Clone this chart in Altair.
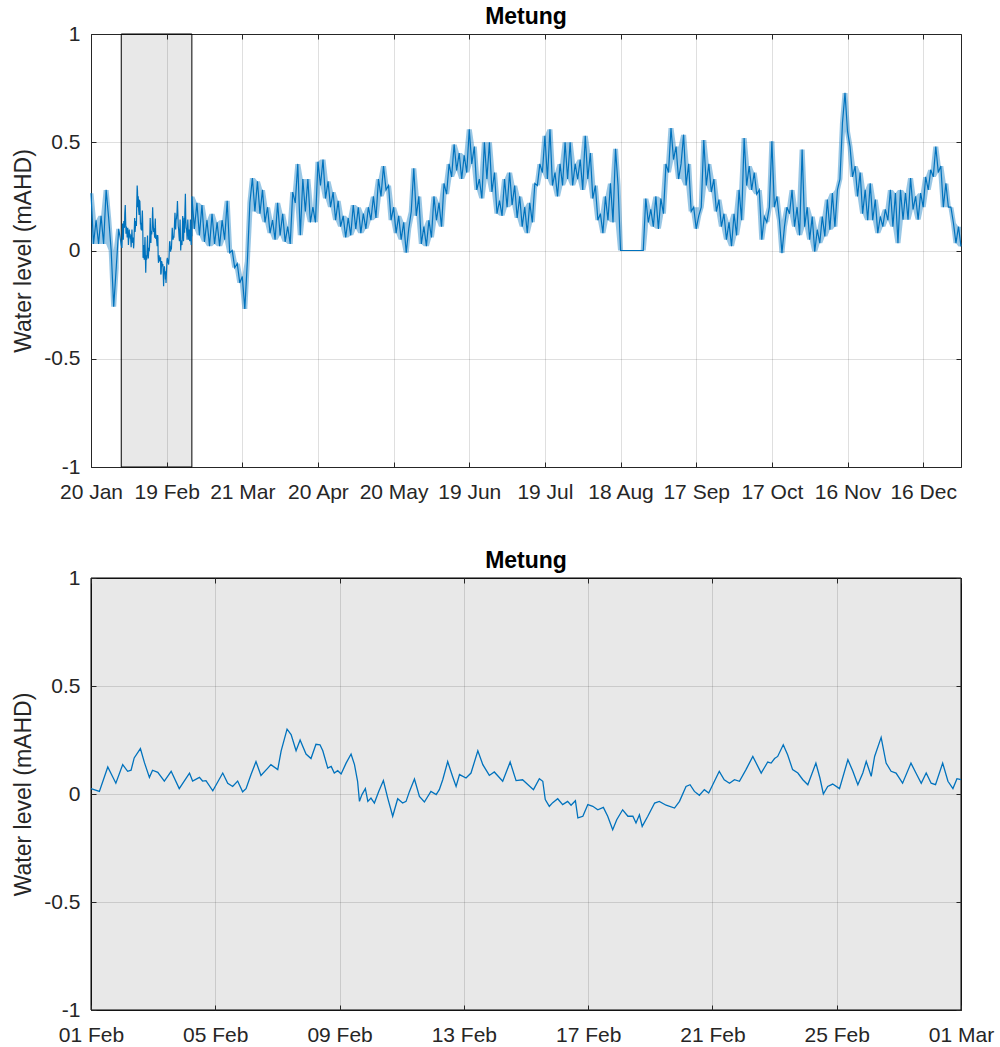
import altair as alt
import pandas as pd

FONT = "Liberation Sans"
AXC = "#262626"
LINE = "#0072BD"

title_text = "Metung"
y_title = "Water level (mAHD)"

top_tick_days = [0, 30, 60, 90, 120, 150, 180, 210, 240, 270, 300, 330]
top_tick_labels = ["20 Jan", "19 Feb", "21 Mar", "20 Apr", "20 May", "19 Jun",
                   "19 Jul", "18 Aug", "17 Sep", "17 Oct", "16 Nov", "16 Dec"]
bot_tick_days = [0, 4, 8, 12, 16, 20, 24, 28]
bot_tick_labels = ["01 Feb", "05 Feb", "09 Feb", "13 Feb", "17 Feb", "21 Feb",
                   "25 Feb", "01 Mar"]
y_ticks = [-1, -0.5, 0, 0.5, 1]

top_span = [0, 345]      # days since 20 Jan (20 Jan .. 31 Dec)
feb_span = [0, 28]       # days since 01 Feb
zoom_window = [12, 40]   # 01 Feb .. 01 Mar, in days since 20 Jan
level_span = [-1, 1]

# ---- top panel: daily readings (alternating tidal highs / lows), by month
jan_levels = [0.265, 0.03, 0.14, 0.03, 0.16, 0.03, 0.28, 0.15, 0.0, -0.26, -0.08, 0.10]
mar_levels = [0.25, 0.10, 0.22, 0.07, 0.21, 0.04, 0.14, 0.02, 0.17, 0.03, 0.13, 0.02,
              0.14, 0.05, 0.23, -0.01, 0.0, -0.08, -0.06, -0.15, -0.12, -0.27, -0.05,
              0.22, 0.335, 0.18, 0.32, 0.17, 0.28, 0.13, 0.20]
apr_levels = [0.08, 0.14, 0.05, 0.22, 0.07, 0.17, 0.04, 0.11, 0.03, 0.27, 0.22, 0.40,
              0.07, 0.33, 0.18, 0.33, 0.13, 0.20, 0.13, 0.41, 0.30, 0.42, 0.24, 0.32,
              0.20, 0.27, 0.14, 0.23, 0.11, 0.16]
may_levels = [0.06, 0.15, 0.07, 0.21, 0.10, 0.20, 0.08, 0.17, 0.10, 0.20, 0.14, 0.25,
              0.15, 0.33, 0.25, 0.39, 0.28, 0.30, 0.14, 0.20, 0.08, 0.16, 0.05, 0.13,
              -0.01, 0.10, 0.18, 0.38, 0.16, 0.25, 0.03]
jun_levels = [0.11, 0.02, 0.14, 0.06, 0.25, 0.14, 0.22, 0.11, 0.31, 0.26, 0.40, 0.34,
              0.49, 0.37, 0.45, 0.33, 0.44, 0.36, 0.56, 0.40, 0.48, 0.28, 0.33, 0.24,
              0.50, 0.33, 0.50, 0.27, 0.36, 0.17]
jul_levels = [0.23, 0.16, 0.33, 0.20, 0.36, 0.21, 0.30, 0.15, 0.25, 0.11, 0.20, 0.08,
              0.22, 0.13, 0.31, 0.30, 0.40, 0.36, 0.53, 0.33, 0.56, 0.30, 0.36, 0.25,
              0.40, 0.30, 0.50, 0.33, 0.50, 0.30, 0.40]
aug_levels = [0.33, 0.42, 0.28, 0.53, 0.33, 0.45, 0.24, 0.30, 0.14, 0.17, 0.08, 0.25,
              0.14, 0.31, 0.13, 0.47, 0.30, 0.0, 0.0, 0.0, 0.0, 0.0, 0.0, 0.0, 0.0,
              0.0, 0.0, 0.24, 0.13, 0.19, 0.11]
sep_levels = [0.25, 0.10, 0.24, 0.17, 0.40, 0.36, 0.566, 0.42, 0.48, 0.33, 0.40, 0.535,
              0.30, 0.40, 0.18, 0.20, 0.10, 0.16, 0.20, 0.51, 0.30, 0.40, 0.27, 0.33,
              0.18, 0.235, 0.11, 0.17, 0.05, 0.13]
oct_levels = [0.02, 0.17, 0.07, 0.28, 0.14, 0.52, 0.30, 0.39, 0.28, 0.36, 0.26, 0.28,
              0.05, 0.157, 0.13, 0.20, 0.505, 0.20, 0.25, 0.14, -0.012, 0.11, 0.20, 0.17,
              0.28, 0.11, 0.20, 0.07, 0.466, 0.11, 0.20]
nov_levels = [0.05, 0.157, -0.005, 0.096, 0.034, 0.157, 0.065, 0.235, 0.096, 0.265, 0.11,
              0.28, 0.33, 0.59, 0.728, 0.55, 0.48, 0.34, 0.39, 0.25, 0.36, 0.17, 0.28,
              0.14, 0.31, 0.14, 0.235, 0.08, 0.157, 0.11]
dec_levels = [0.19, 0.14, 0.28, 0.11, 0.265, 0.034, 0.28, 0.142, 0.265, 0.142, 0.335,
              0.19, 0.25, 0.142, 0.265, 0.2, 0.34, 0.28, 0.373, 0.34, 0.48, 0.36, 0.39,
              0.2, 0.31, 0.2, 0.2, 0.127, 0.034, 0.11, 0.019]

# ---- February detail (days since 01 Feb, level in mAHD)
feb_days = [0.00, 0.27, 0.54, 0.80, 1.02, 1.18, 1.29, 1.39, 1.59, 1.72, 1.88, 1.98, 2.15,
            2.36, 2.58, 2.84, 3.17, 3.27, 3.49, 3.59, 3.70, 3.92, 4.24, 4.40, 4.56, 4.72,
            4.88, 4.99, 5.15, 5.31, 5.47, 5.69, 5.79, 6.01, 6.12, 6.31, 6.44, 6.60, 6.73,
            6.92, 7.08, 7.24, 7.37, 7.46, 7.62, 7.73, 7.83, 7.94, 8.05, 8.21, 8.37, 8.48,
            8.58, 8.64, 8.72, 8.83, 8.91, 9.01, 9.12, 9.26, 9.41, 9.55, 9.71, 9.87, 10.03,
            10.14, 10.25, 10.41, 10.57, 10.73, 10.94, 11.11, 11.21, 11.32, 11.48, 11.64,
            11.75, 11.86, 12.07, 12.23, 12.45, 12.61, 12.82, 12.98, 13.25, 13.49, 13.68,
            13.89, 14.24, 14.43, 14.54, 14.62, 14.75, 14.86, 15.02, 15.18, 15.34, 15.45,
            15.59, 15.67, 15.83, 15.99, 16.15, 16.31, 16.49, 16.63, 16.79, 16.92, 17.11,
            17.28, 17.44, 17.54, 17.65, 17.74, 17.92, 18.14, 18.29, 18.51, 18.78, 18.94,
            19.15, 19.28, 19.42, 19.58, 19.74, 19.88, 20.01, 20.22, 20.38, 20.55, 20.71,
            20.87, 21.08, 21.30, 21.57, 21.78, 21.89, 22.00, 22.10, 22.28, 22.42, 22.58,
            22.75, 22.91, 23.07, 23.33, 23.46, 23.57, 23.71, 23.87, 24.09, 24.36, 24.52,
            24.68, 24.84, 24.95, 25.11, 25.22, 25.43, 25.59, 25.75, 25.91, 26.12, 26.39,
            26.55, 26.72, 26.88, 27.04, 27.18, 27.41, 27.58, 27.74, 27.87, 28.00]
feb_levels = [0.025, 0.012, 0.125, 0.05, 0.136, 0.105, 0.11, 0.167, 0.21, 0.145, 0.077,
              0.11, 0.10, 0.06, 0.105, 0.025, 0.097, 0.06, 0.077, 0.06, 0.062, 0.015,
              0.097, 0.05, 0.035, 0.06, 0.01, 0.025, 0.09, 0.15, 0.086, 0.12, 0.136,
              0.113, 0.2, 0.30, 0.275, 0.2, 0.25, 0.185, 0.164, 0.23, 0.228, 0.2, 0.12,
              0.128, 0.097, 0.108, 0.093, 0.143, 0.185, 0.136, 0.059, -0.034, -0.003,
              0.025, -0.034, -0.019, -0.042, 0.012, 0.062, -0.019, -0.103, -0.022,
              -0.042, -0.034, 0.012, 0.069, -0.011, -0.037, 0.012, -0.003, 0.02, 0.066,
              0.15, 0.08, 0.035, 0.09, 0.074, 0.097, 0.2, 0.136, 0.086, 0.102, 0.059,
              0.148, 0.062, 0.066, 0.02, 0.071, 0.059, -0.026, -0.057, -0.04, -0.022,
              -0.049, -0.034, -0.052, -0.031, -0.111, -0.103, -0.049, -0.057, -0.073,
              -0.062, -0.103, -0.165, -0.119, -0.073, -0.103, -0.103, -0.134, -0.096,
              -0.15, -0.103, -0.042, -0.034, -0.052, -0.065, -0.034, 0.035, 0.043, 0.012,
              -0.006, 0.02, 0.005, 0.043, 0.105, 0.066, 0.05, 0.066, 0.059, 0.113, 0.174,
              0.097, 0.148, 0.143, 0.164, 0.174, 0.228, 0.182, 0.113, 0.097, 0.066, 0.043,
              0.143, 0.074, 0.0, 0.035, 0.046, 0.025, 0.159, 0.105, 0.043, 0.097, 0.151,
              0.082, 0.174, 0.262, 0.143, 0.105, 0.097, 0.05, 0.143, 0.097, 0.05, 0.097,
              0.05, 0.043, 0.143, 0.059, 0.025, 0.071, 0.066]

# ---- assemble tables
feb_offset = zoom_window[0]
after_feb = (mar_levels + apr_levels + may_levels + jun_levels + jul_levels + aug_levels
             + sep_levels + oct_levels + nov_levels + dec_levels)
top_rows = [(i, v) for i, v in enumerate(jan_levels)]
top_rows += [(feb_offset + d, v) for d, v in zip(feb_days, feb_levels)]
top_rows += [(zoom_window[1] + i, v) for i, v in enumerate(after_feb)]
top_df = pd.DataFrame(top_rows, columns=["day", "level"])
bot_df = pd.DataFrame({"day": feb_days, "level": feb_levels})


def band_rows(start, vals, seg):
    # tidal band: range spanned by each daily reading and its neighbours
    rows = []
    for i in range(len(vals)):
        nb = vals[max(0, i - 1):i + 2]
        rows.append((start + i, min(nb), max(nb), seg))
    return rows


band_df = pd.DataFrame(band_rows(0, jan_levels, "a") +
                       band_rows(zoom_window[1], after_feb, "b"),
                       columns=["day", "low", "high", "seg"])


def label_expr(vals, labs):
    arr = "[" + ",".join("'%s'" % s for s in labs) + "]"
    idx = "[" + ",".join(str(v) for v in vals) + "]"
    return arr + "[indexof(" + idx + ", datum.value)]"


def panel(df, xdom, tick_vals, tick_labs, win, h, lw, band=None):
    xs = alt.Scale(domain=xdom, nice=False, zero=False)
    ys = alt.Scale(domain=level_span, nice=False, zero=False)
    grid_x = alt.Axis(values=tick_vals, grid=True, gridColor=AXC, gridOpacity=0.15,
                      gridWidth=1, domain=False, ticks=False, labels=False, title=None,
                      zindex=0)
    grid_y = alt.Axis(values=y_ticks, grid=True, gridColor=AXC, gridOpacity=0.15,
                      gridWidth=1, domain=False, ticks=False, labels=False, title=None,
                      zindex=0)
    lab_x = alt.Axis(values=tick_vals, orient="bottom", grid=False, domain=False,
                     ticks=True, tickSize=5, tickColor=AXC, tickWidth=1, offset=-5,
                     labelExpr=label_expr(tick_vals, tick_labs), labelFont=FONT,
                     labelFontSize=21, labelColor=AXC, labelPadding=14,
                     labelFlush=False, labelOverlap=False, labelAngle=0, title=None,
                     zindex=2)
    lab_y = alt.Axis(values=y_ticks, orient="left", grid=False, domain=False,
                     ticks=True, tickSize=5, tickColor=AXC, tickWidth=1, offset=-5,
                     labelExpr="'' + datum.value", labelFont=FONT, labelFontSize=21,
                     labelColor=AXC, labelPadding=11, labelFlush=False,
                     labelOverlap=False, title=y_title, titleFont=FONT,
                     titleFontSize=23, titleFontWeight="normal", titleColor=AXC,
                     titlePadding=8, zindex=2)
    top_x = alt.Axis(values=tick_vals, orient="top", grid=False, domain=False,
                     ticks=True, tickSize=5, tickColor=AXC, tickWidth=1, offset=-5,
                     labels=False, title=None, zindex=2)
    right_y = alt.Axis(values=y_ticks, orient="right", grid=False, domain=False,
                       ticks=True, tickSize=5, tickColor=AXC, tickWidth=1, offset=-5,
                       labels=False, title=None, zindex=2)
    win_df = pd.DataFrame({"x0": [win[0]], "x1": [win[1]],
                           "y0": [level_span[0]], "y1": [level_span[1]]})
    rect = alt.Chart(win_df).mark_rect(fill="black", fillOpacity=0.09, stroke="black",
                                       strokeWidth=1).encode(
        x=alt.X("x0:Q", scale=xs, axis=grid_x), x2="x1:Q",
        y=alt.Y("y0:Q", scale=ys, axis=grid_y), y2="y1:Q")
    layers = [rect]
    if band is not None:
        layers.append(alt.Chart(band).mark_area(color=LINE, opacity=0.4).encode(
            x=alt.X("day:Q", scale=xs, axis=None),
            y=alt.Y("low:Q", scale=ys, axis=None), y2="high:Q",
            detail="seg:N"))
    line = alt.Chart(df).mark_line(color=LINE, strokeWidth=lw).encode(
        x=alt.X("day:Q", scale=xs, axis=lab_x),
        y=alt.Y("level:Q", scale=ys, axis=lab_y))
    frame = alt.Chart(df).mark_line(opacity=0).encode(
        x=alt.X("day:Q", scale=xs, axis=top_x),
        y=alt.Y("level:Q", scale=ys, axis=right_y))
    layers += [line, frame]
    return alt.layer(*layers).resolve_axis(
        x="independent", y="independent").properties(
        width=870, height=h,
        title=alt.TitleParams(text=title_text, font=FONT, fontSize=23,
                              fontWeight="bold", color="#000000", offset=-6,
                              anchor="middle"))


top = panel(top_df, top_span, top_tick_days, top_tick_labels, zoom_window, 433, 1.2,
            band=band_df)
bottom = panel(bot_df, feb_span, bot_tick_days, bot_tick_labels, feb_span, 432, 1.3)

chart = alt.vconcat(top, bottom, spacing=46).properties(
    padding={"left": 12, "top": 5, "right": 5, "bottom": 5}
).configure_view(stroke=AXC, strokeWidth=1)

chart.save("out.html", embed_options={"renderer": "svg", "actions": False})
